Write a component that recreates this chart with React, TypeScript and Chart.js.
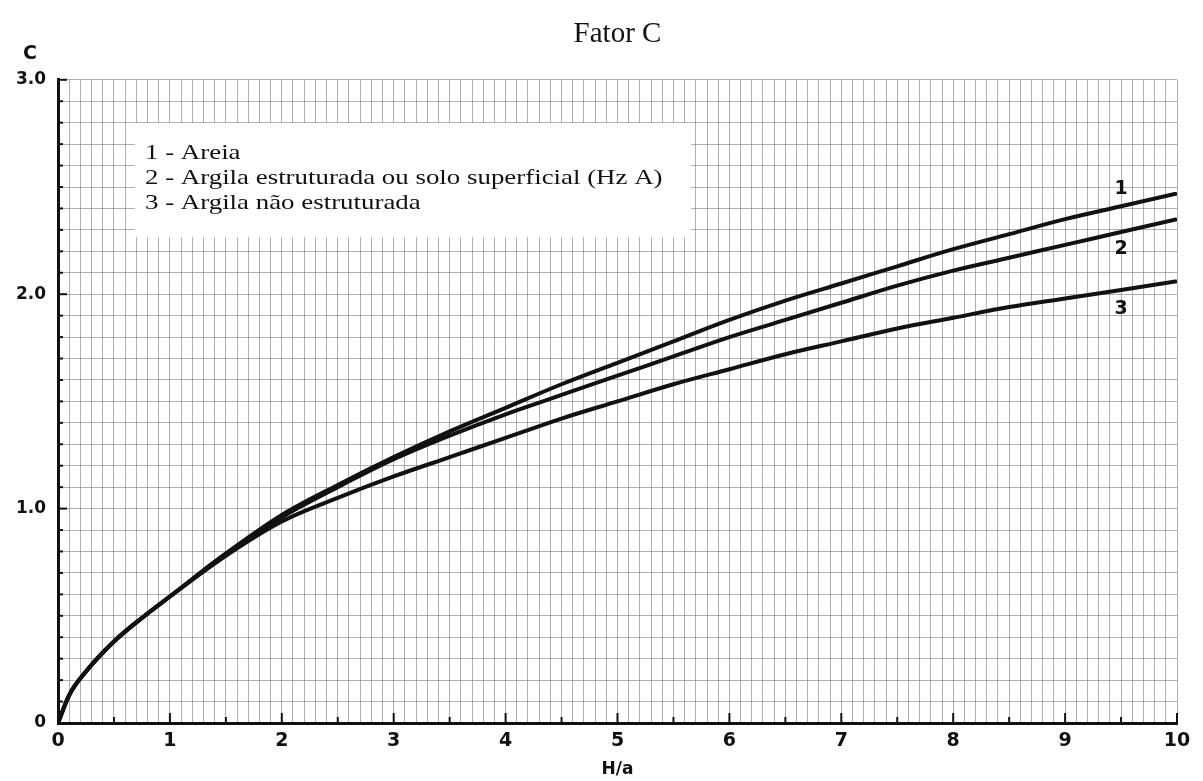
import React, { useEffect, useRef } from 'react';
import { Chart, registerables } from 'chart.js';

Chart.register(...registerables);

// ---- data ----
const hOverA = [0, 0.1, 0.25, 0.5, 0.75, 1, 1.5, 2, 2.5, 3, 3.5, 4, 4.5, 5, 5.5, 6, 6.5, 7, 7.5, 8, 8.5, 9, 9.5, 10];
const curve1 = [0, 0.13, 0.24, 0.38, 0.49, 0.59, 0.79, 0.97, 1.11, 1.24, 1.36, 1.47, 1.58, 1.68, 1.78, 1.88, 1.97, 2.05, 2.13, 2.21, 2.28, 2.35, 2.41, 2.47];
const curve2 = [0, 0.13, 0.24, 0.38, 0.49, 0.59, 0.79, 0.96, 1.10, 1.23, 1.34, 1.44, 1.53, 1.62, 1.71, 1.80, 1.88, 1.96, 2.04, 2.11, 2.17, 2.23, 2.29, 2.35];
const curve3 = [0, 0.13, 0.24, 0.38, 0.49, 0.59, 0.78, 0.94, 1.05, 1.15, 1.24, 1.33, 1.42, 1.50, 1.58, 1.65, 1.72, 1.78, 1.84, 1.89, 1.94, 1.98, 2.02, 2.06];
const seriesNames = ['1 - Areia', '2 - Argila estruturada ou solo superficial (Hz A)', '3 - Argila não estruturada'];
const curveLabels = ['1', '2', '3'];
const curveLabelX = [9.5, 9.5, 9.5];
const curveLabelY = [2.49, 2.21, 1.93];
const titleText = 'Fator C';
const xTitle = 'H/a';
const yTitle = 'C';

const SANS = '"DejaVu Sans", "Liberation Sans", sans-serif';
const SERIF = '"Liberation Serif", "Times New Roman", serif';

const isWhole = (v: number) => Math.abs(v - Math.round(v)) < 1e-6;

const overlayPlugin = {
  id: 'overlay',
  beforeDatasetsDraw(chart: any) {
    const { ctx, chartArea, scales } = chart;
    const xs = scales.x;
    const ys = scales.y;
    ctx.save();
    // legend white box
    ctx.fillStyle = '#ffffff';
    ctx.fillRect(135, 123, 556, 114);
    // inner ticks on y axis
    ctx.strokeStyle = '#111';
    ctx.lineWidth = 2;
    ys.ticks.forEach((t: any) => {
      const y = ys.getPixelForValue(t.value);
      const len = isWhole(t.value) ? 9 : 5;
      ctx.beginPath();
      ctx.moveTo(chartArea.left, y);
      ctx.lineTo(chartArea.left + len, y);
      ctx.stroke();
    });
    // inner ticks on x axis
    xs.ticks.forEach((t: any) => {
      const x = xs.getPixelForValue(t.value);
      const half = Math.abs(t.value * 2 - Math.round(t.value * 2)) < 1e-6;
      const len = isWhole(t.value) ? 10 : half ? 6 : 0;
      if (!len) return;
      ctx.beginPath();
      ctx.moveTo(x, chartArea.bottom);
      ctx.lineTo(x, chartArea.bottom - len);
      ctx.stroke();
    });
    ctx.restore();
  },
  afterDraw(chart: any) {
    const { ctx, scales } = chart;
    const xs = scales.x;
    const ys = scales.y;
    ctx.save();
    // legend text (horizontally stretched like the scanned original)
    ctx.fillStyle = '#111';
    ctx.font = `21px ${SERIF}`;
    ctx.textAlign = 'left';
    ctx.textBaseline = 'middle';
    seriesNames.forEach((s, i) => {
      ctx.save();
      ctx.translate(145, 153 + i * 25);
      ctx.scale(1.28, 1);
      ctx.fillText(s, 0, 0);
      ctx.restore();
    });
    // curve labels
    ctx.font = `bold 19px ${SANS}`;
    ctx.textAlign = 'center';
    curveLabels.forEach((l, i) => {
      ctx.fillText(l, xs.getPixelForValue(curveLabelX[i]), ys.getPixelForValue(curveLabelY[i]));
    });
    // y title
    ctx.font = `bold 19px ${SANS}`;
    ctx.fillText(yTitle, 30, 54);
    ctx.restore();
  },
};

export default function App() {
  const ref = useRef<HTMLCanvasElement | null>(null);
  useEffect(() => {
    if (!ref.current) return;
    const mk = (vals: number[]) => hOverA.map((x, i) => ({ x, y: vals[i] }));
    const ds = [curve1, curve2, curve3].map((v, i) => ({
      label: curveLabels[i],
      data: mk(v),
      borderColor: '#111',
      borderWidth: 4,
      pointRadius: 0,
      fill: false,
      cubicInterpolationMode: 'monotone' as const,
    }));
    const gridColor = 'rgba(100,100,100,0.5)';
    const chart = new Chart(ref.current, {
      type: 'line',
      data: { datasets: ds },
      options: {
        responsive: false,
        animation: false,
        layout: { padding: { left: 0, right: 26, top: 0, bottom: 0 } },
        plugins: {
          legend: { display: false },
          tooltip: { enabled: false },
          title: {
            display: true,
            text: titleText,
            fullSize: false,
            color: '#111',
            font: { family: SERIF, size: 29, weight: 'normal' },
            padding: { top: 17, bottom: 28 },
          },
        },
        scales: {
          x: {
            type: 'linear',
            min: 0,
            max: 10,
            afterFit: (s: any) => { s.height = 58; },
            grid: { color: gridColor, lineWidth: 1, drawTicks: false },
            border: { color: '#111', width: 3 },
            ticks: {
              stepSize: 0.1,
              autoSkip: false,
              maxRotation: 0,
              padding: 7,
              color: '#111',
              font: { family: SANS, size: 19, weight: 'bold' },
              callback: (v: any) => (isWhole(Number(v)) ? String(Math.round(Number(v))) : ''),
            },
            title: {
              display: true,
              text: xTitle,
              color: '#111',
              font: { family: SANS, size: 17, weight: 'bold' },
              padding: { top: 0, bottom: 1 },
            },
          },
          y: {
            type: 'linear',
            min: 0,
            max: 3,
            afterFit: (s: any) => { s.width = 58; },
            grid: { color: gridColor, lineWidth: 1, drawTicks: false },
            border: { color: '#111', width: 3 },
            ticks: {
              stepSize: 0.1,
              autoSkip: false,
              padding: 12,
              color: '#111',
              font: { family: SANS, size: 17, weight: 'bold' },
              callback: (v: any) => {
                const n = Number(v);
                if (!isWhole(n)) return '';
                return Math.round(n) === 0 ? '0' : n.toFixed(1);
              },
            },
          },
        },
      },
      plugins: [overlayPlugin],
    });
    return () => chart.destroy();
  }, []);
  return (
    <div style={{ position: 'absolute', left: 0, top: 0, width: 1203, height: 781, background: '#fff' }}>
      <canvas ref={ref} width={1203} height={781} style={{ width: 1203, height: 781, display: 'block' }} />
    </div>
  );
}
